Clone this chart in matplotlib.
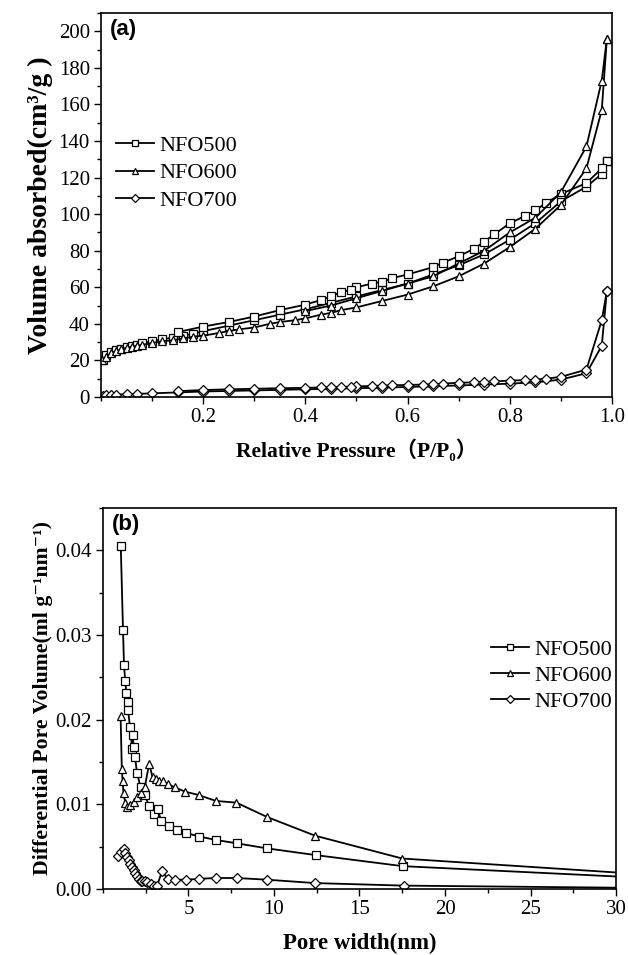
import matplotlib
matplotlib.use("Agg")
import matplotlib.pyplot as plt
from matplotlib.ticker import MultipleLocator, FormatStrFormatter, FixedLocator

plt.rcParams['font.family'] = ['Liberation Serif', 'DejaVu Serif', 'Noto Sans CJK SC']

# ---------------- Panel (a): N2 isotherms ----------------
p500_ads = [0.003, 0.01, 0.02, 0.03, 0.04, 0.05, 0.06, 0.07, 0.08, 0.1, 0.12, 0.14, 0.16, 0.18, 0.2,
            0.25, 0.3, 0.35, 0.4, 0.45, 0.5, 0.55, 0.6, 0.65, 0.7, 0.75, 0.8, 0.85, 0.9, 0.95, 0.98, 0.99]
v500_ads = [20, 23, 24.5, 25.5, 26.5, 27.5, 28, 28.5, 29.5, 30.5, 31.5, 32.5, 33.5, 34.5, 36,
            39, 42, 45, 48, 51.5, 55, 58.5, 62, 67, 72, 78, 86, 95, 107, 115, 122, 129]
p500_des = [0.99, 0.98, 0.95, 0.9, 0.87, 0.85, 0.83, 0.8, 0.77, 0.75, 0.73, 0.7, 0.67, 0.65, 0.6,
            0.57, 0.55, 0.53, 0.5, 0.49, 0.47, 0.45, 0.43, 0.4, 0.35, 0.3, 0.25, 0.2, 0.15]
v500_des = [129, 125, 117, 111, 106, 102, 99, 95, 89, 85, 81, 77, 73.5, 71, 67,
            65, 63, 62, 60, 58.5, 57.5, 55, 53, 50.5, 47.5, 44, 41, 38.5, 35.5]

p600_ads = [0.002, 0.01, 0.02, 0.03, 0.04, 0.05, 0.06, 0.07, 0.08, 0.1, 0.12, 0.14, 0.16, 0.18, 0.2,
            0.23, 0.25, 0.27, 0.3, 0.33, 0.35, 0.38, 0.4, 0.43, 0.45, 0.47, 0.5, 0.55, 0.6, 0.65,
            0.7, 0.75, 0.8, 0.85, 0.9, 0.95, 0.98, 0.99]
v600_ads = [20, 22, 24, 25, 26, 27, 27.5, 28, 28.5, 29.5, 30.5, 31, 32, 33, 33.5,
            35, 36, 37, 38, 40, 41, 42, 43, 45, 46, 47.5, 49, 52.5, 56, 60.5,
            66, 73, 82, 92, 105, 125, 157, 196]
p600_des = [0.99, 0.98, 0.95, 0.9, 0.85, 0.8, 0.75, 0.7, 0.65, 0.6, 0.55, 0.5, 0.45, 0.4]
v600_des = [196, 173, 137, 112, 98, 90, 80, 73, 66, 62, 58, 54, 50, 47]

p700_ads = [0.003, 0.01, 0.02, 0.03, 0.05, 0.07, 0.1, 0.15, 0.2, 0.25, 0.3, 0.35, 0.4, 0.45, 0.5,
            0.55, 0.6, 0.65, 0.7, 0.75, 0.8, 0.85, 0.9, 0.95, 0.98, 0.99]
v700_ads = [0.5, 1, 1.2, 1.3, 1.5, 1.7, 2, 2.5, 3, 3.3, 3.6, 3.9, 4.2, 4.5, 4.8,
            5.1, 5.5, 5.9, 6.3, 6.8, 7.3, 8, 9.5, 13, 28, 58]
p700_des = [0.99, 0.98, 0.95, 0.9, 0.87, 0.85, 0.83, 0.8, 0.77, 0.75, 0.73, 0.7, 0.67, 0.65, 0.63,
            0.6, 0.57, 0.55, 0.53, 0.5, 0.49, 0.47, 0.45, 0.43, 0.4, 0.35, 0.3, 0.25, 0.2, 0.15]
v700_des = [58, 42, 15, 11, 10, 9.5, 9.2, 9, 8.5, 8.2, 8, 7.8, 7.3, 7, 6.8,
            6.6, 6.4, 6.2, 6, 5.8, 5.7, 5.5, 5.3, 5.2, 5, 4.8, 4.5, 4.2, 3.8, 3.2]

# ---------------- Panel (b): pore size distribution ----------------
w500 = [1.04, 1.17, 1.23, 1.30, 1.37, 1.44, 1.47, 1.58, 1.71, 1.73, 1.80, 1.87, 1.99, 2.2, 2.45,
        2.69, 3.0, 3.21, 3.4, 3.87, 4.34, 4.88, 5.63, 6.58, 7.82, 9.59, 12.46, 17.52, 38]
d500 = [0.0405, 0.0306, 0.0264, 0.0246, 0.0231, 0.0221, 0.0211, 0.0191, 0.0165, 0.0182, 0.0168,
        0.0156, 0.0137, 0.0120, 0.0111, 0.0098, 0.0088, 0.0094, 0.0080, 0.0074, 0.0070, 0.0066,
        0.0062, 0.0058, 0.0054, 0.0048, 0.0040, 0.0027, 0.0007]
w600 = [1.03, 1.1, 1.15, 1.2, 1.3, 1.4, 1.6, 1.8, 2.0, 2.2, 2.45, 2.7, 2.9, 3.1, 3.3, 3.5, 3.8,
        4.2, 4.8, 5.6, 6.6, 7.8, 9.6, 12.4, 17.5, 38]
d600 = [0.0204, 0.0142, 0.0127, 0.0113, 0.0102, 0.0097, 0.0099, 0.0103, 0.0109, 0.0113, 0.0121,
        0.0148, 0.0132, 0.0130, 0.0128, 0.0127, 0.0124, 0.0120, 0.0115, 0.0111, 0.0104, 0.0102,
        0.0085, 0.0063, 0.0036, 0.0009]
w700 = [0.85, 1.05, 1.2, 1.3, 1.4, 1.5, 1.6, 1.7, 1.8, 1.9, 2.0, 2.1, 2.2, 2.3, 2.45, 2.6, 2.8,
        3.0, 3.15, 3.45, 3.8, 4.2, 4.88, 5.63, 6.58, 7.82, 9.59, 12.4, 17.6, 38]
d700 = [0.0039, 0.0044, 0.0047, 0.0042, 0.0038, 0.0034, 0.0030, 0.0026, 0.0022, 0.0019, 0.0015,
        0.0012, 0.0010, 0.0009, 0.0009, 0.0008, 0.0006, 0.0004, 0.0003, 0.0021, 0.0012, 0.0011,
        0.0011, 0.0012, 0.0013, 0.0013, 0.0011, 0.0007, 0.0004, 0.0000]

labels = ['NFO500', 'NFO600', 'NFO700']

fig = plt.figure(figsize=(6.28, 9.55), dpi=100)
axa = fig.add_axes([0.1608, 0.5843, 0.8137, 0.4021])
axb = fig.add_axes([0.1640, 0.0691, 0.8169, 0.3990])

def style(m, ms=6.0):
    if m == 'D':
        ms = ms * 0.9
    return dict(color='black', lw=1.3, marker=m, markersize=ms, markerfacecolor='white',
                markeredgecolor='black', markeredgewidth=0.9)

# panel a
axa.plot(p500_ads, v500_ads, **style('s'), label=labels[0])
axa.plot(p500_des, v500_des, **style('s'))
axa.plot(p600_ads, v600_ads, **style('^'), label=labels[1])
axa.plot(p600_des, v600_des, **style('^'))
axa.plot(p700_ads, v700_ads, **style('D'), label=labels[2])
axa.plot(p700_des, v700_des, **style('D'))

axa.set_xlim(0, 1.0)
axa.set_ylim(0, 210)
axa.xaxis.set_major_locator(FixedLocator([0.2, 0.4, 0.6, 0.8, 1.0]))
axa.xaxis.set_major_formatter(FormatStrFormatter('%.1f'))
axa.xaxis.set_minor_locator(MultipleLocator(0.1))
axa.yaxis.set_major_locator(MultipleLocator(20))
axa.yaxis.set_minor_locator(MultipleLocator(10))
axa.set_xlabel('Relative Pressure（P/P₀）', fontsize=15.5, fontweight='bold', labelpad=9)
axa.set_ylabel('Volume absorbed(cm³/g )', fontsize=20, fontweight='bold', labelpad=4)
axa.text(0.018, 0.985, '(a)', transform=axa.transAxes, ha='left', va='top',
         fontsize=16, fontweight='bold', family='Liberation Sans')
axa.legend(loc='center left', bbox_to_anchor=(-0.01, 0.583), frameon=False, fontsize=16,
           handlelength=1.7, handletextpad=0.25, labelspacing=0.3, markerscale=0.7)

# panel b
axb.plot(w500, d500, **style('s'), label=labels[0])
axb.plot(w600, d600, **style('^'), label=labels[1])
axb.plot(w700, d700, **style('D'), label=labels[2])
axb.set_xlim(0, 30)
axb.set_ylim(0, 0.045)
axb.xaxis.set_major_locator(FixedLocator([5, 10, 15, 20, 25, 30]))
axb.xaxis.set_minor_locator(MultipleLocator(2.5))
axb.yaxis.set_major_locator(MultipleLocator(0.01))
axb.yaxis.set_minor_locator(MultipleLocator(0.005))
axb.yaxis.set_major_formatter(FormatStrFormatter('%.2f'))
axb.set_xlabel('Pore width(nm)', fontsize=16.5, fontweight='bold', labelpad=10)
axb.set_ylabel('Differential Pore Volume(ml g⁻¹nm⁻¹)', fontsize=15.7, fontweight='bold', labelpad=2)
axb.text(0.018, 0.985, '(b)', transform=axb.transAxes, ha='left', va='top',
         fontsize=16, fontweight='bold', family='Liberation Sans')
axb.legend(loc='center right', bbox_to_anchor=(1.032, 0.56), frameon=False, fontsize=16,
           handlelength=1.7, handletextpad=0.25, labelspacing=0.25, markerscale=0.7)

for ax in (axa, axb):
    for s in ax.spines.values():
        s.set_linewidth(1.2)
    ax.tick_params(which='both', direction='out', top=False, right=False, width=1.0,
                   labelsize=15, pad=3)
    ax.tick_params(which='major', length=5)
    ax.tick_params(which='minor', length=3)

fig.savefig('out.png', dpi=100)
